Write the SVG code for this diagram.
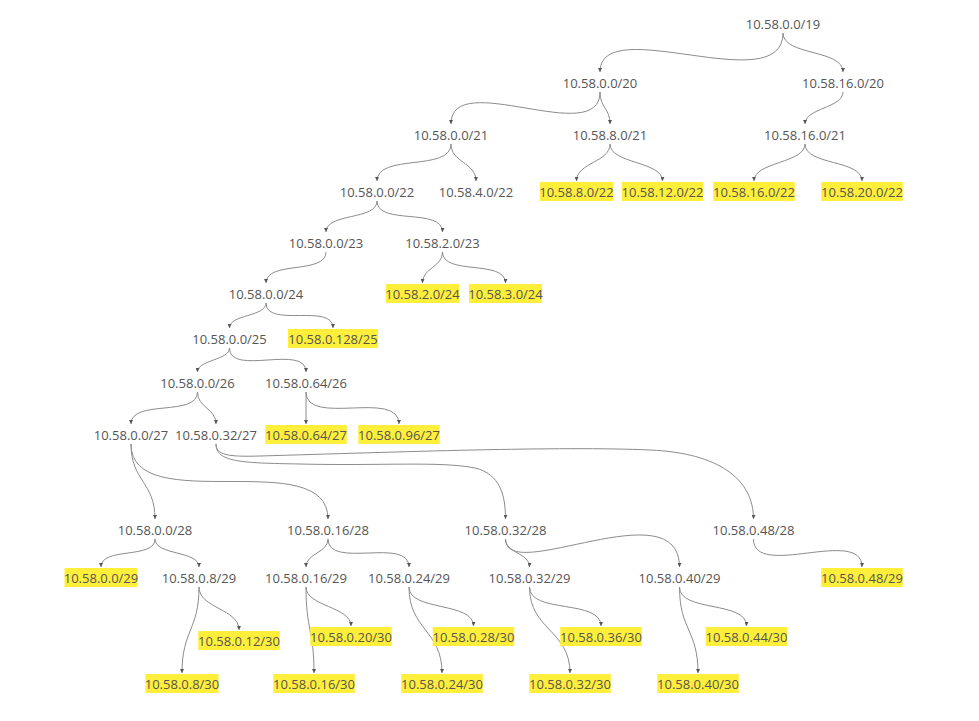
<svg xmlns="http://www.w3.org/2000/svg" width="979" height="721" viewBox="0 0 979 721">
<style>
.t{font-family:"Open Sans","Noto Sans","DejaVu Sans",sans-serif;font-size:13px;fill:#555;text-anchor:middle}
.hl{fill:#ffef3a}
.e{fill:none;stroke:#8c8c8c;stroke-width:1;marker-end:url(#ah)}
</style>
<defs>
<marker id="ah" viewBox="0 0 6 6" refX="6" refY="3" markerWidth="4" markerHeight="4" markerUnits="userSpaceOnUse" orient="auto">
<path d="M0,0 L6,3 L0,6 z" fill="#555"/>
</marker>
</defs>
<rect width="979" height="721" fill="#fff"/>
<g id="connectors">
<path class="e" d="M783,33 C783,101 600,11 600,72"/>
<path class="e" d="M783,33 C783,56 843,49 843,72"/>
<path class="e" d="M600,92 C600,149 451,67 451,124"/>
<path class="e" d="M600,92 C600,108 610,108 610,124"/>
<path class="e" d="M843,92 C843,108 805,108 805,124"/>
<path class="e" d="M610,144 C610,162.5 576.5,162.5 576.5,181"/>
<path class="e" d="M610,144 C610,164 662.5,161 662.5,181"/>
<path class="e" d="M805,144 C805,163.4 754,161.6 754,181"/>
<path class="e" d="M805,144 C805,165.7 862,159.3 862,181"/>
<path class="e" d="M451,144 C451,172 377,153 377,181"/>
<path class="e" d="M451,144 C451,162.5 476,162.5 476,181"/>
<path class="e" d="M377,201 C377,220.4 326,212.6 326,232"/>
<path class="e" d="M377,201 C377,225.9 442.5,207.1 442.5,232"/>
<path class="e" d="M326,252 C326,274.8 266,260.2 266,283"/>
<path class="e" d="M442.5,252 C442.5,267.5 422.5,267.5 422.5,283"/>
<path class="e" d="M442.5,252 C442.5,275.9 505.5,259.1 505.5,283"/>
<path class="e" d="M266,303 C266,316.9 229.5,314.1 229.5,328"/>
<path class="e" d="M266,303 C266,328.5 333,302.5 333,328"/>
<path class="e" d="M229.5,348 C229.5,360.2 197.5,359.8 197.5,372"/>
<path class="e" d="M229.5,348 C229.5,377 306,343 306,372"/>
<path class="e" d="M197.5,392 C197.5,417.3 131,398.7 131,424"/>
<path class="e" d="M197.5,392 C197.5,408 216,408 216,424"/>
<path class="e" d="M306,392 L306,424"/>
<path class="e" d="M306,392 C306,427.3 399,388.7 399,424"/>
<path class="e" d="M131,444 C131,481.5 155,481.5 155,519"/>
<path class="e" d="M131,444 C131,519 328,444 328,519"/>
<path class="e" d="M216,444 C216,462 240,463 300,464 C380,466 440,461 475,468 C500,474 505.5,495 505.5,519"/>
<path class="e" d="M216,444 C216,455 228,457 260,456 C400,452 560,446 650,450 C720,453 753.5,480 753.5,519"/>
<path class="e" d="M155,539 C155,559.5 101,546.5 101,567"/>
<path class="e" d="M155,539 C155,555.7 199,550.3 199,567"/>
<path class="e" d="M328,539 C328,553 306,553 306,567"/>
<path class="e" d="M328,539 C328,569.8 409,536.2 409,567"/>
<path class="e" d="M505.5,539 C505.5,553 529.5,553 529.5,567"/>
<path class="e" d="M505.5,539 C505.5,586 679.5,488 679.5,567"/>
<path class="e" d="M753.5,539 C753.5,580 862,526 862,567"/>
<path class="e" d="M199,587 C199,608.5 239,608.5 239,630"/>
<path class="e" d="M199,587 C199,630 182,630 182,673"/>
<path class="e" d="M306,587 C306,606.5 351,606.5 351,626"/>
<path class="e" d="M306,587 C306,630 314,630 314,673"/>
<path class="e" d="M409,587 C409,611.5 473.5,601.5 473.5,626"/>
<path class="e" d="M409,587 C409,630 442,630 442,673"/>
<path class="e" d="M529.5,587 C529.5,614.2 601,598.8 601,626"/>
<path class="e" d="M529.5,587 C529.5,630 570,630 570,673"/>
<path class="e" d="M679.5,587 C679.5,612.5 746.5,600.5 746.5,626"/>
<path class="e" d="M679.5,587 C679.5,630 698,630 698,673"/>
</g>
<g id="n-0-0-19"><text class="t" x="783" y="28.5">10.58.0.0/19</text></g>
<g id="n-0-0-20"><text class="t" x="600" y="87.5">10.58.0.0/20</text></g>
<g id="n-16-0-20"><text class="t" x="843" y="87.5">10.58.16.0/20</text></g>
<g id="n-0-0-21"><text class="t" x="451" y="139.5">10.58.0.0/21</text></g>
<g id="n-8-0-21"><text class="t" x="610" y="139.5">10.58.8.0/21</text></g>
<g id="n-16-0-21"><text class="t" x="805" y="139.5">10.58.16.0/21</text></g>
<g id="n-0-0-22"><text class="t" x="377" y="196.5">10.58.0.0/22</text></g>
<g id="n-4-0-22"><text class="t" x="476" y="196.5">10.58.4.0/22</text></g>
<g id="n-8-0-22"><rect class="hl" x="540" y="182" width="73" height="19"/><text class="t" x="576.5" y="196.5">10.58.8.0/22</text></g>
<g id="n-12-0-22"><rect class="hl" x="621.75" y="182" width="81.5" height="19"/><text class="t" x="662.5" y="196.5">10.58.12.0/22</text></g>
<g id="n-16-0-22"><rect class="hl" x="713.25" y="182" width="81.5" height="19"/><text class="t" x="754" y="196.5">10.58.16.0/22</text></g>
<g id="n-20-0-22"><rect class="hl" x="821.25" y="182" width="81.5" height="19"/><text class="t" x="862" y="196.5">10.58.20.0/22</text></g>
<g id="n-0-0-23"><text class="t" x="326" y="247.5">10.58.0.0/23</text></g>
<g id="n-2-0-23"><text class="t" x="442.5" y="247.5">10.58.2.0/23</text></g>
<g id="n-0-0-24"><text class="t" x="266" y="298.5">10.58.0.0/24</text></g>
<g id="n-2-0-24"><rect class="hl" x="386" y="284" width="73" height="19"/><text class="t" x="422.5" y="298.5">10.58.2.0/24</text></g>
<g id="n-3-0-24"><rect class="hl" x="469" y="284" width="73" height="19"/><text class="t" x="505.5" y="298.5">10.58.3.0/24</text></g>
<g id="n-0-0-25"><text class="t" x="229.5" y="343.5">10.58.0.0/25</text></g>
<g id="n-0-128-25"><rect class="hl" x="288" y="329" width="90" height="19"/><text class="t" x="333" y="343.5">10.58.0.128/25</text></g>
<g id="n-0-0-26"><text class="t" x="197.5" y="387.5">10.58.0.0/26</text></g>
<g id="n-0-64-26"><text class="t" x="306" y="387.5">10.58.0.64/26</text></g>
<g id="n-0-0-27"><text class="t" x="131" y="439.5">10.58.0.0/27</text></g>
<g id="n-0-32-27"><text class="t" x="216" y="439.5">10.58.0.32/27</text></g>
<g id="n-0-64-27"><rect class="hl" x="265.25" y="425" width="81.5" height="19"/><text class="t" x="306" y="439.5">10.58.0.64/27</text></g>
<g id="n-0-96-27"><rect class="hl" x="358.25" y="425" width="81.5" height="19"/><text class="t" x="399" y="439.5">10.58.0.96/27</text></g>
<g id="n-0-0-28"><text class="t" x="155" y="534.5">10.58.0.0/28</text></g>
<g id="n-0-16-28"><text class="t" x="328" y="534.5">10.58.0.16/28</text></g>
<g id="n-0-32-28"><text class="t" x="505.5" y="534.5">10.58.0.32/28</text></g>
<g id="n-0-48-28"><text class="t" x="753.5" y="534.5">10.58.0.48/28</text></g>
<g id="n-0-0-29"><rect class="hl" x="64.5" y="568" width="73" height="19"/><text class="t" x="101" y="582.5">10.58.0.0/29</text></g>
<g id="n-0-8-29"><text class="t" x="199" y="582.5">10.58.0.8/29</text></g>
<g id="n-0-16-29"><text class="t" x="306" y="582.5">10.58.0.16/29</text></g>
<g id="n-0-24-29"><text class="t" x="409" y="582.5">10.58.0.24/29</text></g>
<g id="n-0-32-29"><text class="t" x="529.5" y="582.5">10.58.0.32/29</text></g>
<g id="n-0-40-29"><text class="t" x="679.5" y="582.5">10.58.0.40/29</text></g>
<g id="n-0-48-29"><rect class="hl" x="821.25" y="568" width="81.5" height="19"/><text class="t" x="862" y="582.5">10.58.0.48/29</text></g>
<g id="n-0-12-30"><rect class="hl" x="198.25" y="631" width="81.5" height="19"/><text class="t" x="239" y="645.5">10.58.0.12/30</text></g>
<g id="n-0-20-30"><rect class="hl" x="310.25" y="627" width="81.5" height="19"/><text class="t" x="351" y="641.5">10.58.0.20/30</text></g>
<g id="n-0-28-30"><rect class="hl" x="432.75" y="627" width="81.5" height="19"/><text class="t" x="473.5" y="641.5">10.58.0.28/30</text></g>
<g id="n-0-36-30"><rect class="hl" x="560.25" y="627" width="81.5" height="19"/><text class="t" x="601" y="641.5">10.58.0.36/30</text></g>
<g id="n-0-44-30"><rect class="hl" x="705.75" y="627" width="81.5" height="19"/><text class="t" x="746.5" y="641.5">10.58.0.44/30</text></g>
<g id="n-0-8-30"><rect class="hl" x="145.5" y="674" width="73" height="19"/><text class="t" x="182" y="688.5">10.58.0.8/30</text></g>
<g id="n-0-16-30"><rect class="hl" x="273.25" y="674" width="81.5" height="19"/><text class="t" x="314" y="688.5">10.58.0.16/30</text></g>
<g id="n-0-24-30"><rect class="hl" x="401.25" y="674" width="81.5" height="19"/><text class="t" x="442" y="688.5">10.58.0.24/30</text></g>
<g id="n-0-32-30"><rect class="hl" x="529.25" y="674" width="81.5" height="19"/><text class="t" x="570" y="688.5">10.58.0.32/30</text></g>
<g id="n-0-40-30"><rect class="hl" x="657.25" y="674" width="81.5" height="19"/><text class="t" x="698" y="688.5">10.58.0.40/30</text></g>
</svg>
